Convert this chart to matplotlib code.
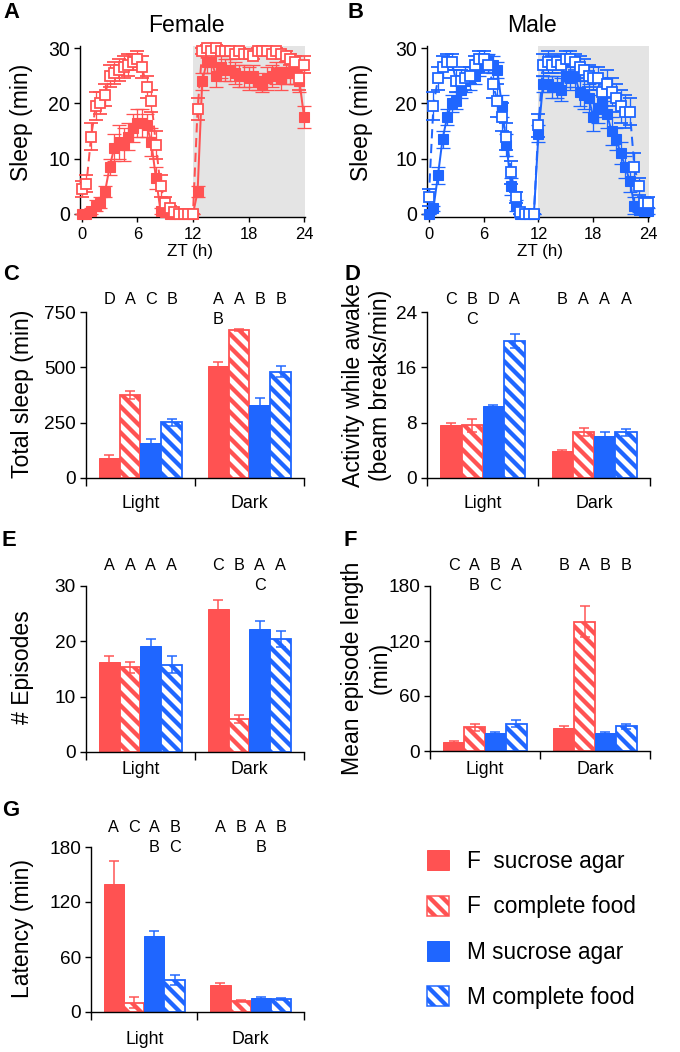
import numpy as np
import matplotlib
matplotlib.use("Agg")
import matplotlib.pyplot as plt
from matplotlib.patches import Patch
from matplotlib.transforms import blended_transform_factory

W, H, DPI = 681, 1052, 78
RED = "#FF5252"
BLUE = "#1F66FF"
GREY = "#E4E4E4"
HATCH = "\\\\"


def pt(px):
    # size given in pixels -> points at the chosen dpi
    return px * 72 / DPI


plt.rcParams["font.family"] = ["Liberation Sans", "DejaVu Sans"]
plt.rcParams["hatch.linewidth"] = pt(4.3)
plt.rcParams["axes.linewidth"] = pt(1.4)

# sleep per 30 min bin, ZT 0..24
zt = np.arange(0, 24.5, 0.5)
f_sucrose = [0, 0, 0.5, 1.5, 2, 4, 8.5, 12, 13, 12.5, 14, 15.5, 16.5, 16.5, 16, 13, 6.5, 0.5, 0.3, 0,
             0, 0, 0, 0, 0, 4, 24, 27.5, 27.5, 25, 26.5, 26, 26, 25.5, 25, 25, 24.5, 25, 24, 23.5,
             24.5, 25, 25.5, 24.5, 25.5, 25.5, 25.5, 24, 17.5]
f_sucrose_err = [0, 0, 0.5, 1, 1, 1, 1.5, 2.5, 3, 3, 2.5, 2.5, 2.5, 2.5, 2, 2.5, 2, 0.5, 0.3, 0,
                 0, 0, 0, 0, 0, 1, 1.5, 2, 2, 2, 2, 2, 2, 2, 2, 2, 2, 2, 1.5, 1.5,
                 2, 2, 2, 2, 2, 2, 2, 2, 2]
f_complete = [4.5, 5.5, 14, 19.5, 20, 21.5, 25, 25.5, 26, 26.5, 27, 27.5, 28, 26.5, 23, 20.5, 12.5, 5, 2, 1,
              0.3, 0, 0, 0, 0, 19, 29.5, 30, 29.5, 30, 29.5, 29.5, 29.5, 29, 29.5, 29, 29, 28.5, 29.5, 29.5,
              29.5, 29, 29.5, 29, 28.5, 28, 27.5, 24.5, 27]
f_complete_err = [1.5, 1.5, 2.5, 2.5, 2, 2, 2, 2, 2, 2, 2, 1.5, 1.5, 2, 2, 2, 2.5, 2, 1, 0.5,
                  0.3, 0, 0, 0, 0, 2, 0.5, 0.5, 0.5, 0.5, 0.5, 0.5, 0.5, 0.5, 0.5, 0.5, 0.5, 0.5, 0.5, 0.5,
                  0.5, 0.5, 0.5, 0.5, 1, 1, 1, 2, 1.5]
m_sucrose = [0, 1, 7, 13.5, 17.5, 20, 20.5, 22.5, 24, 24.5, 25, 26.5, 27.5, 27.5, 27, 26, 19.5, 12.5, 5, 1.5,
             0, 0, 0, 0, 14.5, 23.5, 23.5, 23, 23, 22.5, 25, 24.5, 25, 22, 21.5, 21, 17.5, 19, 20, 18,
             15, 13.5, 11, 8.5, 6, 1.5, 0.8, 0.5, 0.5]
m_sucrose_err = [0, 0.5, 1.5, 1.5, 1.5, 1.5, 1.5, 1.5, 2, 2, 1.5, 1.5, 1.5, 1.5, 1.5, 1.5, 2, 2, 1.5, 1,
                 0, 0, 0, 0, 1.5, 1.5, 1.5, 2, 2, 2, 2, 2, 2, 2.5, 2.5, 2.5, 2.5, 2.5, 2.5, 2.5,
                 2.5, 2, 2, 2, 2, 1.5, 0.5, 0.5, 0.5]
m_complete = [3, 19.5, 24.5, 26.5, 27.5, 27.5, 24, 24, 24.5, 25, 27, 28, 28, 27, 23.5, 20.5, 17.5, 14, 7.5, 3,
              0.3, 0, 0, 0, 16, 27, 27.5, 27, 27.5, 27, 28, 28, 27.5, 26.5, 26, 25, 24.5, 24.5, 22, 23.5,
              22, 21, 19.5, 18.5, 18.5, 8.5, 5, 2, 2]
m_complete_err = [1.5, 2.5, 2, 2, 1.5, 1.5, 2, 2, 2, 1.5, 1.5, 1.5, 1.5, 1.5, 2.5, 3, 2.5, 2.5, 2, 1,
                  0.3, 0, 0, 0, 2, 2, 2, 1.5, 1.5, 1.5, 1.5, 1.5, 1.5, 2, 2, 2, 2, 2, 2.5, 2.5,
                  2.5, 2.5, 3, 3, 2.5, 2.5, 1.5, 1, 1]

# bar panels: [Light, Dark] x [F sucrose, F complete, M sucrose, M complete]
conditions = ["F  sucrose agar", "F  complete food", "M sucrose agar", "M complete food"]
groups = ["Light", "Dark"]

total_sleep = [[90, 375, 160, 252], [505, 670, 330, 480]]
total_sleep_err = [[15, 20, 15, 15], [18, 5, 30, 25]]
total_sleep_letters = [["D", "A", "C", "B"], ["A/B", "A", "B", "B"]]

activity = [[7.7, 7.6, 10.4, 19.8], [3.9, 6.7, 6.1, 6.6]]
activity_err = [[0.3, 0.9, 0.15, 1.0], [0.15, 0.6, 0.6, 0.5]]
activity_letters = [["C", "B/C", "D", "A"], ["B", "A", "A", "A"]]

episodes = [[16.3, 15.3, 19.1, 15.8], [25.8, 6.0, 22.3, 20.4]]
episodes_err = [[1.0, 1.0, 1.3, 1.5], [1.7, 0.7, 1.3, 1.5]]
episodes_letters = [["A", "A", "A", "A"], ["C", "B", "A/C", "A"]]

episode_len = [[10, 26, 20, 30], [25, 141, 20, 27]]
episode_len_err = [[1, 4, 1, 4], [2, 17, 1, 3]]
episode_len_letters = [["C", "A/B", "B/C", "A"], ["B", "A", "B", "B"]]

latency = [[140, 10, 83, 35], [30, 12, 15, 14]]
latency_err = [[25, 6, 5, 5], [2, 1, 1, 1]]
latency_letters = [["A", "C", "A/B", "B/C"], ["A", "B", "A/B", "B"]]

COLORS = [RED, RED, BLUE, BLUE]
HATCHED = [False, True, False, True]
BAR_W = 0.19

fig = plt.figure(figsize=(W / DPI, H / DPI), dpi=DPI)


def fx(px):
    return px / W


def fy(py):
    return 1 - py / H


def add_axes_px(left, top, right, bottom):
    return fig.add_axes([fx(left), fy(bottom), (right - left) / W, (bottom - top) / H])


def fig_text(px, py, s, size, **kw):
    fig.text(fx(px), fy(py), s, fontsize=pt(size), ha="center", va="center", **kw)


def style_axes(ax, tick_px):
    for side in ("top", "right"):
        ax.spines[side].set_visible(False)
    ax.tick_params(direction="out", length=pt(6), width=pt(1.4), labelsize=pt(tick_px), pad=pt(4))


def sleep_panel(ax, sucrose, sucrose_err, complete, complete_err, color):
    ax.axvspan(12, 24.1, color=GREY, lw=0, zorder=0)
    common = dict(color=color, lw=pt(2), marker="s", ms=pt(9.5), mec=color, capsize=pt(7),
                  elinewidth=pt(1.3), capthick=pt(1.3), clip_on=False)
    ax.errorbar(zt, sucrose, yerr=sucrose_err, ls="-", mfc=color, zorder=3, **common)
    ax.errorbar(zt, complete, yerr=complete_err, ls="--", dashes=(pt(5), pt(3)), mfc="white",
                mew=pt(1.8), zorder=4, **common)
    ax.set_xlim(-0.2, 24.1)
    ax.set_ylim(-0.6, 30.4)
    ax.set_xticks([0, 6, 12, 18, 24])
    ax.set_yticks([0, 10, 20, 30])
    style_axes(ax, 19.5)
    ax.tick_params(axis="x", labelsize=pt(16.5), length=pt(5), pad=pt(5))


def bar_panel(ax, values, errors, letters, ymax, yticks, rows_y, label_y):
    trans = blended_transform_factory(ax.transData, fig.transFigure)
    for g in range(2):
        for k in range(4):
            x = g + 0.5 + (k - 1.5) * BAR_W
            color = COLORS[k]
            if HATCHED[k]:
                ax.bar(x, values[g][k], width=BAR_W, color="white", edgecolor=color, hatch=HATCH,
                       lw=pt(1.8), zorder=2)
            else:
                ax.bar(x, values[g][k], width=BAR_W, color=color, edgecolor=color, lw=pt(1), zorder=2)
            ax.errorbar(x, values[g][k], yerr=errors[g][k], fmt="none", ecolor=color,
                        elinewidth=pt(1.5), capsize=pt(5), capthick=pt(1.5), zorder=3)
            for r, s in enumerate(letters[g][k].split("/")):
                ax.text(x, fy(rows_y[r]), s, transform=trans, ha="center", va="center",
                        fontsize=pt(16.3))
        ax.text(g + 0.5, fy(label_y), groups[g], transform=trans, ha="center", va="center",
                fontsize=pt(17.7))
    ax.set_xlim(0, 2)
    ax.set_ylim(0, ymax)
    ax.set_yticks(yticks)
    ax.set_xticks([0, 1, 2], labels=[])
    style_axes(ax, 19)
    ax.tick_params(axis="x", length=pt(8))


# A / B: sleep profiles
ax_a = add_axes_px(80, 45.8, 305, 217.3)
sleep_panel(ax_a, f_sucrose, f_sucrose_err, f_complete, f_complete_err, RED)
ax_b = add_axes_px(427, 45.8, 649, 217.3)
sleep_panel(ax_b, m_sucrose, m_sucrose_err, m_complete, m_complete_err, BLUE)
fig_text(186, 25, "Female", 23)
fig_text(532, 25, "Male", 23)
fig_text(190, 252, "ZT (h)", 17)
fig_text(540, 252, "ZT (h)", 17)
fig_text(22, 122, "Sleep (min)", 23, rotation=90)
fig_text(362, 122, "Sleep (min)", 23, rotation=90)

# C - G: bar panels
ax_c = add_axes_px(86, 312, 304, 478)
bar_panel(ax_c, total_sleep, total_sleep_err, total_sleep_letters, 750, [0, 250, 500, 750],
          (299, 319), 504)
fig_text(23, 394, "Total sleep (min)", 23, rotation=90)

ax_d = add_axes_px(427, 312, 650, 478)
bar_panel(ax_d, activity, activity_err, activity_letters, 24, [0, 8, 16, 24], (299, 319), 504)
fig_text(367, 385, "Activity while awake\n(beam breaks/min)", 23, rotation=90, linespacing=1.25)

ax_e = add_axes_px(86, 586, 304, 752)
bar_panel(ax_e, episodes, episodes_err, episodes_letters, 30, [0, 10, 20, 30], (566, 586), 769)
fig_text(22.5, 667, "# Episodes", 23, rotation=90)

ax_f = add_axes_px(430, 586, 650, 751)
bar_panel(ax_f, episode_len, episode_len_err, episode_len_letters, 180, [0, 60, 120, 180],
          (565, 585), 769)
fig_text(366, 668, "Mean episode length\n(min)", 23, rotation=90, linespacing=1.25)

ax_g = add_axes_px(91, 847, 304, 1012)
bar_panel(ax_g, latency, latency_err, latency_letters, 180, [0, 60, 120, 180], (828, 848), 1039)
fig_text(22.5, 929, "Latency (min)", 23, rotation=90)

# panel letters
for letter, (px, py) in zip("ABCDEFG", [(11, 13), (355, 13), (11, 274), (352, 274),
                                        (9, 540), (350, 540), (11, 810)]):
    fig_text(px, py, letter, 22, fontweight="bold")

# legend
handles = []
for k in range(4):
    if HATCHED[k]:
        handles.append(Patch(facecolor="white", edgecolor=COLORS[k], hatch=HATCH, lw=pt(1.5)))
    else:
        handles.append(Patch(facecolor=COLORS[k], edgecolor=COLORS[k], lw=pt(1)))
fig.legend(handles, conditions, loc="upper left", bbox_to_anchor=(fx(427), fy(850)),
           frameon=False, fontsize=pt(22.6), handlelength=0.97, handleheight=0.97,
           handletextpad=0.8, labelspacing=0.99, borderpad=0, borderaxespad=0)

fig.savefig("out.png", dpi=DPI)
